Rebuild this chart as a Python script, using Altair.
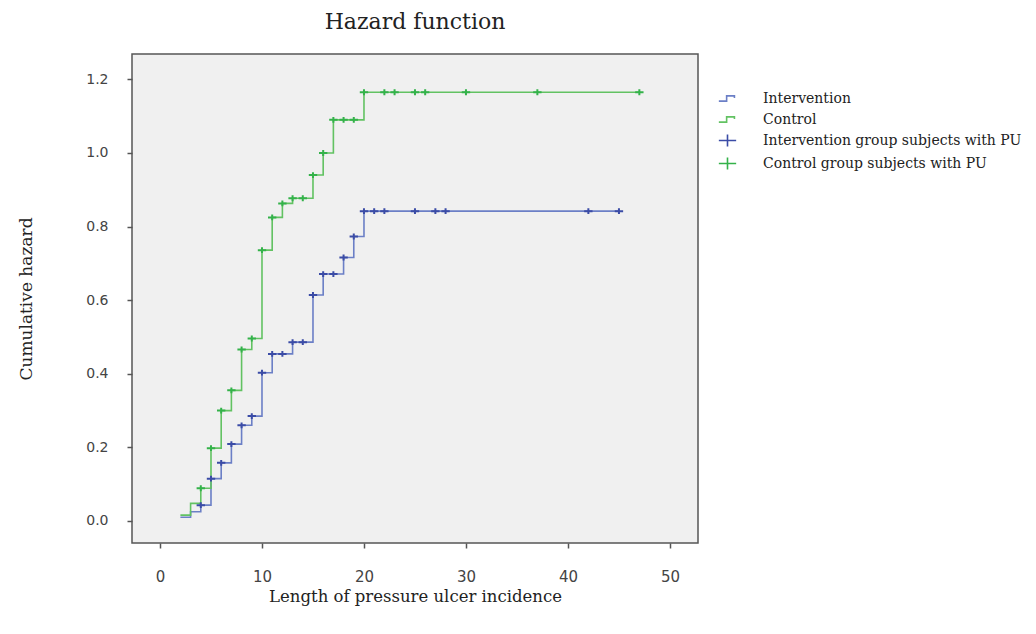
import altair as alt
import pandas as pd

# ---- data ----
times_int = [2, 3, 4, 5, 6, 7, 8, 9, 10, 11, 13, 15, 16, 18, 19, 20, 45]
haz_int = [0.010, 0.025, 0.043, 0.115, 0.158, 0.209, 0.260, 0.285, 0.403, 0.454,
           0.486, 0.614, 0.671, 0.716, 0.773, 0.842, 0.842]

times_ctl = [2, 3, 4, 5, 6, 7, 8, 9, 10, 11, 12, 13, 15, 16, 17, 20, 47]
haz_ctl = [0.016, 0.048, 0.089, 0.198, 0.300, 0.355, 0.466, 0.496, 0.736, 0.825,
           0.863, 0.877, 0.940, 1.000, 1.090, 1.165, 1.165]

cens_int = [4, 5, 6, 7, 8, 9, 10, 11, 12, 13, 14, 15, 16, 17, 18, 19, 20, 21, 22,
            25, 27, 28, 42, 45]
cens_ctl = [4, 5, 6, 7, 8, 9, 10, 11, 12, 13, 14, 15, 16, 17, 18, 19, 20, 22, 23,
            25, 26, 30, 37, 47]

series_names = ["Intervention", "Control",
                "Intervention group subjects with PU", "Control group subjects with PU"]

x_ticks = [0, 10, 20, 30, 40, 50]
y_ticks = [0.0, 0.2, 0.4, 0.6, 0.8, 1.0, 1.2]

# ---- styling ----
blue_line = "#6b7fc6"
green_line = "#62c262"
blue_mark = "#3b4ca6"
green_mark = "#34b24a"

step_path = "M-1,0.3H-0.1V-0.3H0.8V-0.05"
plus_path = "M-1,0H1M0,-0.7V0.7"


def step_at(times, haz, t):
    v = haz[0]
    for ti, hi in zip(times, haz):
        if ti <= t:
            v = hi
    return v


line_rows = []
for t, h in zip(times_int, haz_int):
    line_rows.append({"t": t, "h": h, "group": "Intervention"})
for t, h in zip(times_ctl, haz_ctl):
    line_rows.append({"t": t, "h": h, "group": "Control"})
df_line = pd.DataFrame(line_rows)

pt_rows = []
for t in cens_int:
    pt_rows.append({"t": t, "h": step_at(times_int, haz_int, t), "series": series_names[2]})
for t in cens_ctl:
    pt_rows.append({"t": t, "h": step_at(times_ctl, haz_ctl, t), "series": series_names[3]})
df_pts = pd.DataFrame(pt_rows)

x_enc = alt.X(
    "t:Q",
    scale=alt.Scale(domain=[-2.745, 52.75], nice=False, zero=False),
    axis=alt.Axis(
        values=x_ticks, title="Length of pressure ulcer incidence", grid=False,
        domain=False, tickSize=5, tickColor="#555", tickWidth=1.5,
        labelFont="DejaVu Sans", labelFontSize=15, labelColor="#444",
        labelPadding=21, titleFont="DejaVu Serif", titleFontSize=16.5,
        titleFontWeight="normal", titleColor="#222", titlePadding=4,
    ),
)
y_enc = alt.Y(
    "h:Q",
    scale=alt.Scale(domain=[-0.0598, 1.269], nice=False, zero=False),
    axis=alt.Axis(
        values=y_ticks, format=".1f", title="Cumulative hazard", grid=False,
        domain=False, tickSize=5, tickColor="#555", tickWidth=1.5,
        labelFont="DejaVu Sans", labelFontSize=14, labelColor="#444",
        labelPadding=19, titleFont="DejaVu Serif", titleFontSize=17,
        titleFontWeight="normal", titleColor="#222", titlePadding=50,
    ),
)

line_i = alt.Chart(df_line).transform_filter(alt.datum.group == "Intervention").mark_line(
    interpolate="step-after", color=blue_line, strokeWidth=1.6
).encode(x=x_enc, y=y_enc)

line_c = alt.Chart(df_line).transform_filter(alt.datum.group == "Control").mark_line(
    interpolate="step-after", color=green_line, strokeWidth=1.6
).encode(x=x_enc, y=y_enc)

legend = alt.Legend(
    title=None, orient="none", legendX=586, legendY=35,
    labelFont="DejaVu Serif", labelFontSize=14, labelColor="#222", labelLimit=0,
    symbolSize=300, symbolStrokeWidth=1.6, labelOffset=26, rowPadding=4,
    padding=0, symbolType="circle",
)

pts = alt.Chart(df_pts).mark_point(
    filled=False, strokeWidth=2, size=70, opacity=1
).encode(
    x=x_enc, y=y_enc,
    color=alt.Color("series:N",
                    scale=alt.Scale(domain=series_names,
                                    range=[blue_line, green_line, blue_mark, green_mark]),
                    legend=legend),
    shape=alt.Shape("series:N",
                    scale=alt.Scale(domain=series_names,
                                    range=[step_path, step_path, plus_path, plus_path]),
                    legend=legend),
)

chart = alt.layer(line_i, line_c, pts).properties(
    width=566, height=489,
    title=alt.TitleParams("Hazard function", font="DejaVu Serif", fontSize=22,
                          fontWeight="normal", color="#222", offset=20),
    autosize=alt.AutoSizeParams(type="none"),
    padding={"left": 124, "top": 46, "right": 328, "bottom": 75},
    background="white",
).configure_view(
    fill="#f0f0f0", stroke="#555", strokeWidth=1.5
)

chart.save("out.html", embed_options={"renderer": "svg", "actions": False})
